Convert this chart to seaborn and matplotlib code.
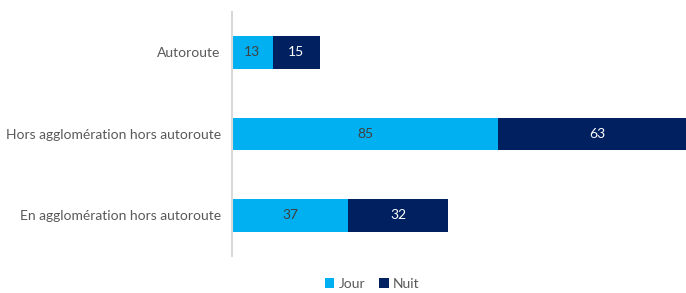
import pandas as pd
import seaborn as sns
import matplotlib.pyplot as plt

sns.set_style('white')
plt.rcParams['font.family'] = ['Lato', 'DejaVu Sans']

categories = ['Autoroute', 'Hors agglomération hors autoroute', 'En agglomération hors autoroute']
jour = [13, 85, 37]
nuit = [15, 63, 32]

df = pd.DataFrame({'cat': categories, 'Jour': jour, 'Nuit': nuit})
df['total'] = df['Jour'] + df['Nuit']

c_jour = '#00B0F0'
c_nuit = '#002060'

fig = plt.figure(figsize=(6.86, 2.93), dpi=100)
ax = fig.add_axes([0.338, 0.126, 0.662, 0.834])

# stacked: total first (Nuit colour), then Jour over it
sns.barplot(data=df, y='cat', x='total', color=c_nuit, width=0.4, ax=ax, saturation=1, label='Nuit', linewidth=0)
sns.barplot(data=df, y='cat', x='Jour', color=c_jour, width=0.4, ax=ax, saturation=1, label='Jour', linewidth=0)

for i, (j, n) in enumerate(zip(jour, nuit)):
    ax.text(j / 2, i, str(j), ha='center', va='center', fontsize=10, color='#404040')
    ax.text(j + n / 2, i, str(n), ha='center', va='center', fontsize=10, color='white')

ax.set_xlim(0, 144.8)
ax.set_ylim(2.5, -0.5)
ax.set_xlabel('')
ax.set_ylabel('')
ax.set_xticks([])
ax.tick_params(axis='y', length=0, pad=8, labelsize=10, labelcolor='#595959')
for s in ['top', 'right', 'bottom']:
    ax.spines[s].set_visible(False)
ax.spines['left'].set_color('#d9d9d9')
ax.spines['left'].set_linewidth(1.5)

h, l = ax.get_legend_handles_labels()
order = [l.index('Jour'), l.index('Nuit')]
fig.legend([h[k] for k in order], [l[k] for k in order], loc='center', bbox_to_anchor=(372 / 686, 1 - 284 / 293),
           ncol=2, frameon=False, fontsize=10, labelcolor='#595959', handlelength=0.7, handleheight=0.7,
           handletextpad=0.3, columnspacing=1.0)
if ax.get_legend():
    ax.get_legend().remove()

fig.savefig('out.png', dpi=100)
